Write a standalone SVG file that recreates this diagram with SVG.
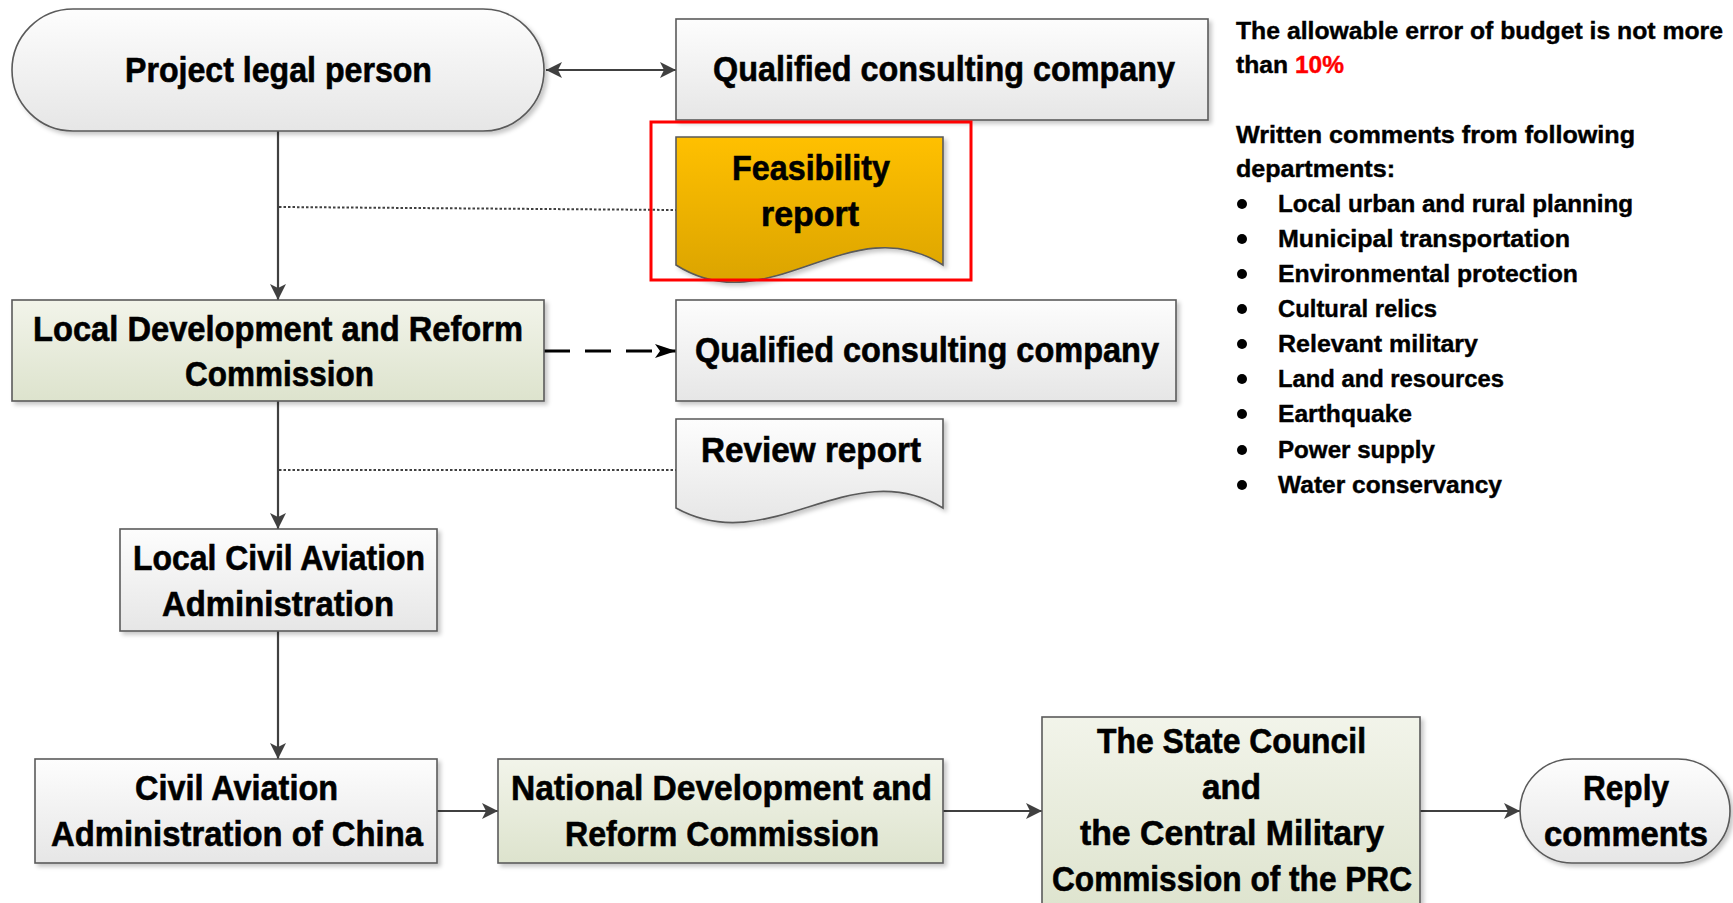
<svg xmlns="http://www.w3.org/2000/svg" width="1733" height="903" viewBox="0 0 1733 903">
<defs>
<linearGradient id="gGray" x1="0" y1="0" x2="0" y2="1"><stop offset="0" stop-color="#FDFDFD"/><stop offset="1" stop-color="#E6E6E6"/></linearGradient>
<linearGradient id="gGreen" x1="0" y1="0" x2="0" y2="1"><stop offset="0" stop-color="#F2F4EA"/><stop offset="1" stop-color="#DDE3CD"/></linearGradient>
<linearGradient id="gYellow" x1="0" y1="0" x2="0" y2="1"><stop offset="0" stop-color="#FFC000"/><stop offset="1" stop-color="#DBA400"/></linearGradient>
<filter id="sh" x="-5%" y="-5%" width="115%" height="120%"><feDropShadow dx="3" dy="3" stdDeviation="2" flood-color="#000" flood-opacity="0.22"/></filter>
<marker id="ah" markerUnits="userSpaceOnUse" markerWidth="18" markerHeight="18" refX="16" refY="8" orient="auto-start-reverse"><path d="M0,0 L16,8 L0,16 L4,8 z" fill="#404040"/></marker>
<marker id="ahb" markerUnits="userSpaceOnUse" markerWidth="24" markerHeight="16" refX="21" refY="7" orient="auto"><path d="M0,0 L21,7 L0,14 L5,7 z" fill="#000"/></marker>
<style>
.box{stroke:#5A5A5A;stroke-width:1.6;filter:url(#sh)}
.gray{fill:url(#gGray)}
.green{fill:url(#gGreen)}
.t{font-family:"Liberation Sans",Arial,sans-serif;font-weight:bold;font-size:35px;fill:#000;stroke:#000;stroke-width:0.6}
.s{font-family:"Liberation Sans",Arial,sans-serif;font-weight:bold;font-size:24px;fill:#000;stroke:#000;stroke-width:0.4}
.ln{stroke:#404040;stroke-width:2.2;fill:none}
.dot{stroke:#404040;stroke-width:2;stroke-dasharray:2.5 2;fill:none}
</style>
</defs>
<rect width="1733" height="903" fill="#fff"/>

<g id="connectors">
<path class="dot" d="M279,207 L676,210"/>
<path class="dot" d="M279,470 L676,470"/>
<path class="ln" d="M278,131 V300" marker-end="url(#ah)"/>
<path class="ln" d="M546,70 H676" marker-start="url(#ah)" marker-end="url(#ah)"/>
<path d="M544,351 H676" stroke="#000" stroke-width="3" stroke-dasharray="26 15" fill="none" marker-end="url(#ahb)"/>
<path class="ln" d="M278,401 V529" marker-end="url(#ah)"/>
<path class="ln" d="M278,631 V759" marker-end="url(#ah)"/>
<path class="ln" d="M437,811 H498" marker-end="url(#ah)"/>
<path class="ln" d="M943,811 H1042" marker-end="url(#ah)"/>
<path class="ln" d="M1420,811 H1520" marker-end="url(#ah)"/>
</g>

<g id="project-legal-person">
<rect class="box gray" x="12" y="9" width="532" height="122" rx="61" ry="61"/>
<text class="t" x="125" y="82" textLength="307" lengthAdjust="spacingAndGlyphs">Project legal person</text>
</g>

<g id="qcc-top">
<rect class="box gray" x="676" y="19" width="532" height="101"/>
<text class="t" x="713" y="81" textLength="462" lengthAdjust="spacingAndGlyphs">Qualified consulting company</text>
</g>

<g id="feasibility-report">
<path class="box" fill="url(#gYellow)" d="M676,137 H943 V265 C850,205 770,325 676,265 Z"/>
<text class="t" x="732" y="180" textLength="158" lengthAdjust="spacingAndGlyphs">Feasibility</text>
<text class="t" x="761" y="226" textLength="98" lengthAdjust="spacingAndGlyphs">report</text>
<rect x="651" y="122" width="320" height="158" fill="none" stroke="#FF0000" stroke-width="3"/>
</g>

<g id="local-drc">
<rect class="box green" x="12" y="300" width="532" height="101"/>
<text class="t" x="33" y="341" textLength="490" lengthAdjust="spacingAndGlyphs">Local Development and Reform</text>
<text class="t" x="185" y="386" textLength="189" lengthAdjust="spacingAndGlyphs">Commission</text>
</g>

<g id="qcc-2">
<rect class="box gray" x="676" y="300" width="500" height="101"/>
<text class="t" x="695" y="362" textLength="464" lengthAdjust="spacingAndGlyphs">Qualified consulting company</text>
</g>

<g id="review-report">
<path class="box gray" d="M676,419 H943 V508 C850,452 770,560 676,508 Z"/>
<text class="t" x="701" y="462" textLength="220" lengthAdjust="spacingAndGlyphs">Review report</text>
</g>

<g id="local-caa">
<rect class="box gray" x="120" y="529" width="317" height="102"/>
<text class="t" x="133" y="570" textLength="292" lengthAdjust="spacingAndGlyphs">Local Civil Aviation</text>
<text class="t" x="162" y="616" textLength="232" lengthAdjust="spacingAndGlyphs">Administration</text>
</g>

<g id="caac">
<rect class="box gray" x="35" y="759" width="402" height="104"/>
<text class="t" x="135" y="800" textLength="203" lengthAdjust="spacingAndGlyphs">Civil Aviation</text>
<text class="t" x="51" y="846" textLength="372" lengthAdjust="spacingAndGlyphs">Administration of China</text>
</g>

<g id="ndrc">
<rect class="box green" x="498" y="759" width="445" height="104"/>
<text class="t" x="511" y="800" textLength="421" lengthAdjust="spacingAndGlyphs">National Development and</text>
<text class="t" x="565" y="846" textLength="314" lengthAdjust="spacingAndGlyphs">Reform Commission</text>
</g>

<g id="state-council">
<rect class="box green" x="1042" y="717" width="378" height="200"/>
<text class="t" x="1097" y="753" textLength="269" lengthAdjust="spacingAndGlyphs">The State Council</text>
<text class="t" x="1202" y="799" textLength="59" lengthAdjust="spacingAndGlyphs">and</text>
<text class="t" x="1080" y="845" textLength="304" lengthAdjust="spacingAndGlyphs">the Central Military</text>
<text class="t" x="1052" y="891" textLength="360" lengthAdjust="spacingAndGlyphs">Commission of the PRC</text>
</g>

<g id="reply-comments">
<rect class="box gray" x="1520" y="759" width="210" height="104" rx="52" ry="52"/>
<text class="t" x="1583" y="800" textLength="86" lengthAdjust="spacingAndGlyphs">Reply</text>
<text class="t" x="1544" y="846" textLength="164" lengthAdjust="spacingAndGlyphs">comments</text>
</g>

<g id="notes">
<text class="s" x="1236" y="39" textLength="487" lengthAdjust="spacingAndGlyphs">The allowable error of budget is not more</text>
<text class="s" x="1236" y="73" textLength="52" lengthAdjust="spacingAndGlyphs">than</text>
<text class="s" x="1295" y="73" textLength="49" lengthAdjust="spacingAndGlyphs" style="fill:#FF0000;stroke:#FF0000">10%</text>
<text class="s" x="1236" y="143" textLength="399" lengthAdjust="spacingAndGlyphs">Written comments from following</text>
<text class="s" x="1236" y="177" textLength="159" lengthAdjust="spacingAndGlyphs">departments:</text>
<g fill="#000">
<circle cx="1242" cy="204" r="5"/>
<circle cx="1242" cy="239" r="5"/>
<circle cx="1242" cy="274" r="5"/>
<circle cx="1242" cy="309" r="5"/>
<circle cx="1242" cy="344" r="5"/>
<circle cx="1242" cy="379" r="5"/>
<circle cx="1242" cy="414" r="5"/>
<circle cx="1242" cy="450" r="5"/>
<circle cx="1242" cy="485" r="5"/>
</g>
<text class="s" x="1278" y="212" textLength="355" lengthAdjust="spacingAndGlyphs">Local urban and rural planning</text>
<text class="s" x="1278" y="247" textLength="292" lengthAdjust="spacingAndGlyphs">Municipal transportation</text>
<text class="s" x="1278" y="282" textLength="300" lengthAdjust="spacingAndGlyphs">Environmental protection</text>
<text class="s" x="1278" y="317" textLength="159" lengthAdjust="spacingAndGlyphs">Cultural relics</text>
<text class="s" x="1278" y="352" textLength="200" lengthAdjust="spacingAndGlyphs">Relevant military</text>
<text class="s" x="1278" y="387" textLength="226" lengthAdjust="spacingAndGlyphs">Land and resources</text>
<text class="s" x="1278" y="422" textLength="134" lengthAdjust="spacingAndGlyphs">Earthquake</text>
<text class="s" x="1278" y="458" textLength="157" lengthAdjust="spacingAndGlyphs">Power supply</text>
<text class="s" x="1278" y="493" textLength="224" lengthAdjust="spacingAndGlyphs">Water conservancy</text>
</g>
</svg>
